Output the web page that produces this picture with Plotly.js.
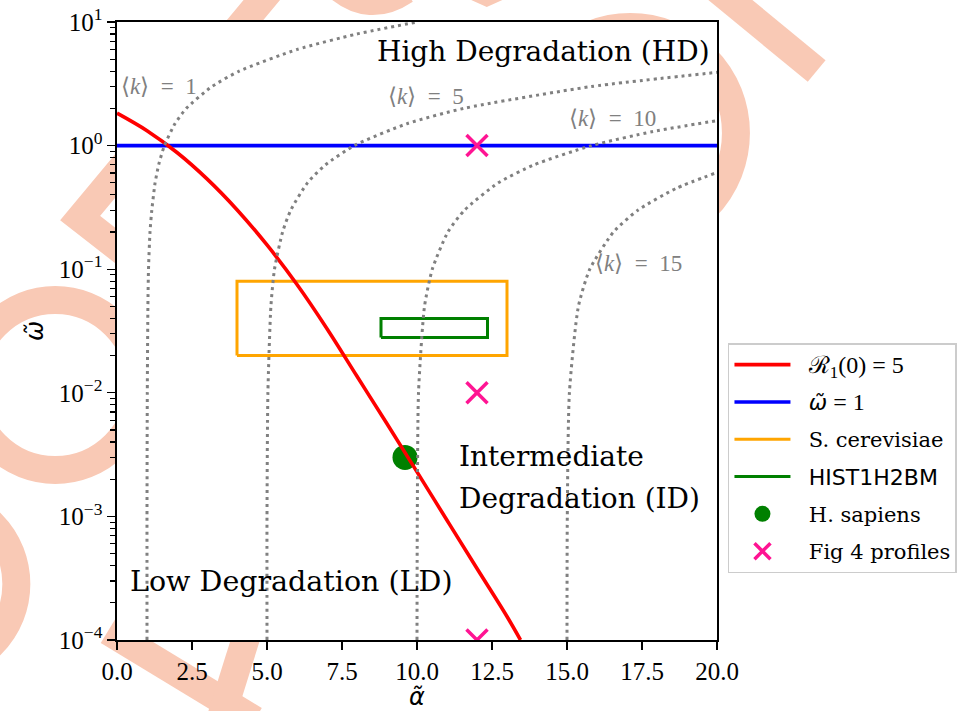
<!DOCTYPE html>
<html><head><meta charset="utf-8">
<script src="https://cdn.plot.ly/plotly-3.0.1.min.js"></script>
<style>html,body{margin:0;padding:0;background:#fff}</style>
</head><body><div id="chart" style="width:969px;height:711px"></div>
<script>
// ---- data ----
const xTickVals = [0, 2.5, 5, 7.5, 10, 12.5, 15, 17.5, 20];
const xTickText = ['0.0', '2.5', '5.0', '7.5', '10.0', '12.5', '15.0', '17.5', '20.0'];
const yTickVals = [1e-4, 1e-3, 1e-2, 1e-1, 1, 10];
const yTickText = ['10<sup>−4</sup>', '10<sup>−3</sup>', '10<sup>−2</sup>', '10<sup>−1</sup>', '10<sup>0</sup>', '10<sup>1</sup>'];

const r1Alpha = [0, 1, 2, 3, 4, 5, 6, 7, 8, 9, 10, 11, 12, 13, 13.45];
const r1Omega = [1.83, 1.32, 0.879, 0.538, 0.303, 0.157, 0.0752, 0.0330, 0.0136, 0.00561, 0.00229, 0.000931, 0.000379, 0.000155, 0.0001];

const omegaOneAlpha = [0, 20];
const omegaOneOmega = [1, 1];

const cerevisiaeAlpha = [4, 13, 13, 4, 4];
const cerevisiaeOmega = [0.02, 0.02, 0.08, 0.08, 0.02];

const histAlpha = [8.8, 12.35, 12.35, 8.8, 8.8];
const histOmega = [0.028, 0.028, 0.04, 0.04, 0.028];

const sapiensAlpha = [9.6];
const sapiensOmega = [0.003];

const fig4Alpha = [12, 12, 12];
const fig4Omega = [1, 0.01, 0.0001];

const k1Omega = [1e-4, 1e-3, 1e-2, 0.05, 0.1, 0.2, 0.3, 0.5, 0.7, 1, 1.5, 2, 3, 4, 6, 8, 10];
const k1Alpha = [1.00, 1.00, 1.01, 1.03, 1.05, 1.10, 1.16, 1.27, 1.39, 1.58, 1.93, 2.31, 3.16, 4.07, 6.01, 8.00, 10.00];
const k5Omega = [1e-4, 1e-3, 1e-2, 0.05, 0.1, 0.2, 0.3, 0.5, 0.7, 1, 1.5, 2, 3, 4];
const k5Alpha = [5.00, 5.00, 5.03, 5.13, 5.25, 5.52, 5.79, 6.35, 6.95, 7.91, 9.65, 11.56, 15.79, 20.37];
const k10Omega = [1e-4, 1e-3, 1e-2, 0.05, 0.1, 0.2, 0.3, 0.5, 0.7, 1, 1.3, 1.6];
const k10Alpha = [10.00, 10.01, 10.05, 10.25, 10.51, 11.03, 11.58, 12.71, 13.91, 15.82, 17.87, 20.05];
const k15Omega = [1e-4, 1e-3, 1e-2, 0.05, 0.1, 0.2, 0.3, 0.45, 0.6];
const k15Alpha = [15.00, 15.01, 15.08, 15.38, 15.76, 16.55, 17.36, 18.63, 19.95];

// ---- layout helpers (pixel -> paper) ----
const L = 117, R = 719, T = 22, B = 640;
const px = x => (x - L) / (R - L);
const py = y => (B - y) / (B - T);

const minorVals = [];
for (let e = -4; e <= 0; e++) for (let d = 2; d <= 9; d++) minorVals.push(d * Math.pow(10, e));

const dotted = {color: '#808080', width: 3, dash: '3px,4px'};
const kTrace = (a, o) => ({x: a, y: o, mode: 'lines', line: Object.assign({shape: 'spline', smoothing: 0.6}, dotted), showlegend: false, hoverinfo: 'skip'});

const sp = (fam, size, txt) => '<span style="font-family:' + fam + ';font-size:' + size + 'px">' + txt + '</span>';
const gap = '\u00a0\u00a0';

const traces = [
  {x: sapiensAlpha, y: sapiensOmega, mode: 'markers', name: gap + 'H. sapiens',
   marker: {color: '#008000', size: 25, symbol: 'circle'}, legendgroup: 'e', legendrank: 5},
  {x: cerevisiaeAlpha, y: cerevisiaeOmega, mode: 'lines', name: gap + 'S. cerevisiae',
   line: {color: '#ffa500', width: 3}, legendgroup: 'c', legendrank: 3},
  {x: histAlpha, y: histOmega, mode: 'lines', name: gap + sp('DejaVu Sans', 22, 'HIST1H2BM'),
   line: {color: '#008000', width: 3}, legendgroup: 'd', legendrank: 4},
  {x: omegaOneAlpha, y: omegaOneOmega, mode: 'lines',
   name: gap + sp('DejaVu Sans', 22, '<i>ω̃</i>') + sp('Liberation Serif', 24, ' = 1'),
   line: {color: '#0000ff', width: 3.6}, legendgroup: 'b', legendrank: 2},
  {x: r1Alpha, y: r1Omega, mode: 'lines', name: gap + sp('Liberation Serif', 24, 'ℛ<sub>1</sub>(0) = 5'),
   line: {color: '#ff0000', width: 3.6, shape: 'spline', smoothing: 1}, legendgroup: 'a', legendrank: 1},
  {x: fig4Alpha, y: fig4Omega, mode: 'markers', name: gap + 'Fig 4 profiles',
   marker: {symbol: 'x-thin', size: 21, color: '#ff1493', line: {color: '#ff1493', width: 3.5}}, legendgroup: 'f', legendrank: 6},
  kTrace(k1Alpha, k1Omega),
  kTrace(k5Alpha, k5Omega),
  kTrace(k10Alpha, k10Omega),
  kTrace(k15Alpha, k15Omega)
];

// ---- watermark (decoration behind the axes) ----
const wm = '#f9c9b5', ww = 28;
const pth = pts => pts.map((p, i) => (i ? 'L' : 'M') + px(p[0]) + ',' + py(p[1])).join(' ');
const circ = (cx, cy, r) => ({type: 'circle', xref: 'paper', yref: 'paper', layer: 'below',
  x0: px(cx - r), x1: px(cx + r), y0: py(cy + r), y1: py(cy - r), line: {color: wm, width: ww}, fillcolor: 'rgba(0,0,0,0)'});
const path = pts => ({type: 'path', xref: 'paper', yref: 'paper', layer: 'below', path: pth(pts), line: {color: wm, width: ww}});
const shapes = [
  path([[279, -20], [80, 218], [198, 310]]),
  path([[108, 631], [255, 720]]),
  path([[263, 585], [219, 725]]),
  path([[708, -20], [819, 71]]),
  path([[440, -30], [488, -8.3], [536, -30]]),
  {type: 'path', xref: 'paper', yref: 'paper', layer: 'below',
   path: 'M' + px(338) + ',' + py(-14) + ' Q' + px(370) + ',' + py(14) + ' ' + px(406) + ',' + py(-10), line: {color: wm, width: ww}},
  circ(55, 385, 85),
  circ(-69, 584, 85),
  circ(632, 133, 106),
  // white axes patch covering the watermark inside the plot area
  {type: 'rect', xref: 'x domain', yref: 'y domain', layer: 'below', x0: 0, x1: 1, y0: 0, y1: 1, fillcolor: '#ffffff', line: {width: 0}}
];

const serif = 'DejaVu Serif';
const ann = (text, x, y, xa, size, color, fam) => ({text, x: px(x), y: py(y), xref: 'paper', yref: 'paper', xanchor: xa, yanchor: 'middle',
  showarrow: false, font: {family: fam || serif, size, color: color || '#000'}});
const es = '\u2002';
const annotations = [
  ann('High Degradation (HD)', 714, 52, 'right', 28),
  ann('Intermediate', 458, 456, 'left', 28),
  ann('Degradation (ID)', 458, 498, 'left', 28),
  ann('Low Degradation (LD)', 128, 581, 'left', 28.5),
  ann('⟨<i>k</i>⟩' + es + '=' + es + '1', 159, 86, 'center', 23, '#808080', 'Liberation Serif'),
  ann('⟨<i>k</i>⟩' + es + '=' + es + '5', 427, 96, 'center', 23, '#808080', 'Liberation Serif'),
  ann('⟨<i>k</i>⟩' + es + '=' + es + '10', 614, 119, 'center', 23, '#808080', 'Liberation Serif'),
  ann('⟨<i>k</i>⟩' + es + '=' + es + '15', 640, 263, 'center', 23, '#808080', 'Liberation Serif')
];

const axisCommon = {showline: true, linecolor: '#000', linewidth: 1.6, mirror: true, showgrid: false, zeroline: false,
  ticks: 'outside', ticklen: 8, tickwidth: 1.4, tickcolor: '#000',
  tickfont: {family: 'Liberation Serif', size: 25, color: '#000'}, tickmode: 'array'};

const layout = {
  width: 969, height: 711,
  margin: {l: L, r: 969 - R, t: T, b: 711 - B, pad: 0},
  paper_bgcolor: '#ffffff', plot_bgcolor: '#ffffff',
  showlegend: true,
  xaxis: Object.assign({}, axisCommon, {range: [0, 20], tickvals: xTickVals, ticktext: xTickText,
    title: {text: '<i>α̃</i>', font: {family: 'DejaVu Sans', size: 24, color: '#000'}, standoff: 4}}),
  yaxis: Object.assign({}, axisCommon, {type: 'log', range: [-4, 1], tickvals: yTickVals, ticktext: yTickText,
    minor: {tickmode: 'array', tickvals: minorVals, ticks: 'outside', ticklen: 5, tickwidth: 1.1, tickcolor: '#000', showgrid: false},
    title: {text: '<i>ω̃</i>', font: {family: 'DejaVu Sans', size: 24, color: '#000'}, standoff: 8}}),
  legend: {x: px(730), y: py(343), xanchor: 'left', yanchor: 'top', bgcolor: '#ffffff', bordercolor: '#cccccc', borderwidth: 1.5,
    font: {family: serif, size: 21, color: '#000'}, tracegroupgap: 7, itemwidth: 56, traceorder: 'grouped'},
  shapes, annotations
};

Plotly.newPlot('chart', traces, layout, {displayModeBar: false, staticPlot: true});
</script></body></html>
